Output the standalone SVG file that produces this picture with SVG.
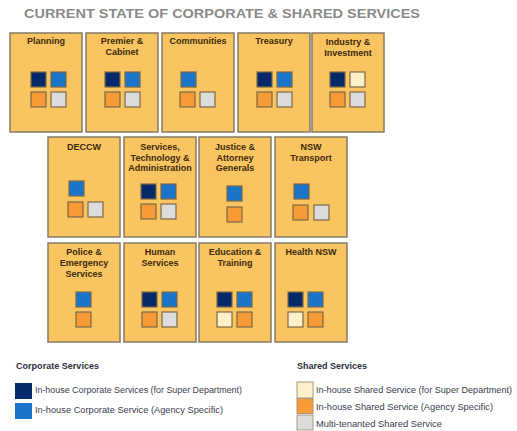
<svg xmlns="http://www.w3.org/2000/svg" width="517" height="431" viewBox="0 0 517 431">
<style>
.bg{fill:#ffffff}
.box{fill:#fac461;stroke:#857a66;stroke-width:1.5}
.lbl{font-family:"Liberation Sans",Arial,sans-serif;font-weight:bold;font-size:9px;fill:#3a2a0c;text-anchor:middle}
.title{font-family:"Liberation Sans",Arial,sans-serif;font-weight:bold;font-size:12.5px;fill:#8a8a8a}
.lh{font-family:"Liberation Sans",Arial,sans-serif;font-weight:bold;font-size:8.5px;fill:#2e3040}
.lt{font-family:"Liberation Sans",Arial,sans-serif;font-size:8.5px;fill:#3a3d4e}
.sq{stroke:#7a6a45;stroke-width:1.2}
.dk{fill:#06296a}
.bl{fill:#1a74c9}
.or{fill:#f89a36}
.gy{fill:#dcdcdc}
.be{fill:#fdf0c8}
.lsq{stroke:#a89a80;stroke-width:1}
</style>
<rect class="bg" x="0" y="0" width="517" height="431"/>
<text class="title" x="24" y="18" textLength="396" lengthAdjust="spacingAndGlyphs">CURRENT STATE OF CORPORATE &amp; SHARED SERVICES</text>

<!-- Row 1 -->
<g id="planning">
<rect class="box" x="10" y="33" width="72" height="99"/>
<text class="lbl" x="46" y="44">Planning</text>
<rect class="sq dk" x="31" y="72" width="15" height="15"/>
<rect class="sq bl" x="51" y="72" width="15" height="15"/>
<rect class="sq or" x="31" y="92" width="15" height="15"/>
<rect class="sq gy" x="51" y="92" width="15" height="15"/>
</g>
<g id="premier-cabinet">
<rect class="box" x="86" y="33" width="72" height="99"/>
<text class="lbl" x="122" y="44">Premier &amp;</text>
<text class="lbl" x="122" y="55">Cabinet</text>
<rect class="sq dk" x="105" y="72" width="15" height="15"/>
<rect class="sq bl" x="125" y="72" width="15" height="15"/>
<rect class="sq or" x="105" y="92" width="15" height="15"/>
<rect class="sq gy" x="125" y="92" width="15" height="15"/>
</g>
<g id="communities">
<rect class="box" x="162" y="33" width="72" height="99"/>
<text class="lbl" x="198" y="44">Communities</text>
<rect class="sq bl" x="181" y="72" width="15" height="15"/>
<rect class="sq or" x="180" y="92" width="15" height="15"/>
<rect class="sq gy" x="200" y="92" width="15" height="15"/>
</g>
<g id="treasury">
<rect class="box" x="238" y="33" width="72" height="99"/>
<text class="lbl" x="274" y="44">Treasury</text>
<rect class="sq dk" x="257" y="72" width="15" height="15"/>
<rect class="sq bl" x="277" y="72" width="15" height="15"/>
<rect class="sq or" x="257" y="92" width="15" height="15"/>
<rect class="sq gy" x="277" y="92" width="15" height="15"/>
</g>
<g id="industry-investment">
<rect class="box" x="312" y="33" width="72" height="99"/>
<text class="lbl" x="348" y="44.5">Industry &amp;</text>
<text class="lbl" x="348" y="55.5">Investment</text>
<rect class="sq dk" x="330" y="72" width="15" height="15"/>
<rect class="sq be" x="350" y="72" width="15" height="15"/>
<rect class="sq or" x="330" y="92" width="15" height="15"/>
<rect class="sq gy" x="350" y="92" width="15" height="15"/>
</g>

<!-- Row 2 -->
<g id="deccw">
<rect class="box" x="48" y="137" width="72" height="100"/>
<text class="lbl" x="84" y="150">DECCW</text>
<rect class="sq bl" x="69" y="181" width="15" height="15"/>
<rect class="sq or" x="68" y="202" width="15" height="15"/>
<rect class="sq gy" x="88" y="202" width="15" height="15"/>
</g>
<g id="services-technology-administration">
<rect class="box" x="124" y="137" width="72" height="100"/>
<text class="lbl" x="160" y="150">Services,</text>
<text class="lbl" x="160" y="160.5">Technology &amp;</text>
<text class="lbl" x="160" y="171">Administration</text>
<rect class="sq dk" x="141" y="184" width="15" height="15"/>
<rect class="sq bl" x="161" y="184" width="15" height="15"/>
<rect class="sq or" x="141" y="204" width="15" height="15"/>
<rect class="sq gy" x="161" y="204" width="15" height="15"/>
</g>
<g id="justice-attorney-generals">
<rect class="box" x="199" y="137" width="72" height="100"/>
<text class="lbl" x="235" y="150">Justice &amp;</text>
<text class="lbl" x="235" y="160.5">Attorney</text>
<text class="lbl" x="235" y="171">Generals</text>
<rect class="sq bl" x="227" y="186" width="15" height="15"/>
<rect class="sq or" x="227" y="207" width="15" height="15"/>
</g>
<g id="nsw-transport">
<rect class="box" x="275" y="137" width="72" height="100"/>
<text class="lbl" x="311" y="150">NSW</text>
<text class="lbl" x="311" y="160.5">Transport</text>
<rect class="sq bl" x="294" y="184" width="15" height="15"/>
<rect class="sq or" x="293" y="205" width="15" height="15"/>
<rect class="sq gy" x="314" y="205" width="15" height="15"/>
</g>

<!-- Row 3 -->
<g id="police-emergency-services">
<rect class="box" x="48" y="243" width="72" height="99"/>
<text class="lbl" x="84" y="254.5">Police &amp;</text>
<text class="lbl" x="84" y="265.5">Emergency</text>
<text class="lbl" x="84" y="277">Services</text>
<rect class="sq bl" x="76" y="292" width="15" height="15"/>
<rect class="sq or" x="76" y="312" width="15" height="15"/>
</g>
<g id="human-services">
<rect class="box" x="124" y="243" width="72" height="99"/>
<text class="lbl" x="160" y="254.5">Human</text>
<text class="lbl" x="160" y="265.5">Services</text>
<rect class="sq dk" x="142" y="292" width="15" height="15"/>
<rect class="sq bl" x="162" y="292" width="15" height="15"/>
<rect class="sq or" x="142" y="312" width="15" height="15"/>
<rect class="sq gy" x="162" y="312" width="15" height="15"/>
</g>
<g id="education-training">
<rect class="box" x="199" y="243" width="72" height="99"/>
<text class="lbl" x="235" y="254.5">Education &amp;</text>
<text class="lbl" x="235" y="265.5">Training</text>
<rect class="sq dk" x="217" y="292" width="15" height="15"/>
<rect class="sq bl" x="237" y="292" width="15" height="15"/>
<rect class="sq be" x="217" y="312" width="15" height="15"/>
<rect class="sq or" x="237" y="312" width="15" height="15"/>
</g>
<g id="health-nsw">
<rect class="box" x="275" y="243" width="72" height="99"/>
<text class="lbl" x="311" y="254.5">Health NSW</text>
<rect class="sq dk" x="288" y="292" width="15" height="15"/>
<rect class="sq bl" x="308" y="292" width="15" height="15"/>
<rect class="sq be" x="288" y="312" width="15" height="15"/>
<rect class="sq or" x="308" y="312" width="15" height="15"/>
</g>

<!-- Legend: Corporate Services -->
<g id="legend-corporate">
<text class="lh" x="16" y="369" textLength="83" lengthAdjust="spacingAndGlyphs">Corporate Services</text>
<rect class="dk" x="15" y="383" width="17" height="16"/>
<text class="lt" x="35" y="393" textLength="207" lengthAdjust="spacingAndGlyphs">In-house Corporate Services (for Super Department)</text>
<rect class="bl" x="15" y="403" width="17" height="16"/>
<text class="lt" x="35" y="413" textLength="188" lengthAdjust="spacingAndGlyphs">In-house Corporate Service (Agency Specific)</text>
</g>

<!-- Legend: Shared Services -->
<g id="legend-shared">
<text class="lh" x="297" y="369" textLength="70" lengthAdjust="spacingAndGlyphs">Shared Services</text>
<rect class="be lsq" x="297" y="382" width="16" height="16"/>
<text class="lt" x="316" y="393" textLength="196" lengthAdjust="spacingAndGlyphs">In-house Shared Service (for Super Department)</text>
<rect class="or lsq" x="297" y="398.5" width="16" height="15"/>
<text class="lt" x="316" y="410" textLength="177" lengthAdjust="spacingAndGlyphs">In-house Shared Service (Agency Specific)</text>
<rect class="gy lsq" x="297" y="415" width="16" height="15"/>
<text class="lt" x="316" y="427" textLength="126" lengthAdjust="spacingAndGlyphs">Multi-tenanted Shared Service</text>
</g>
</svg>
